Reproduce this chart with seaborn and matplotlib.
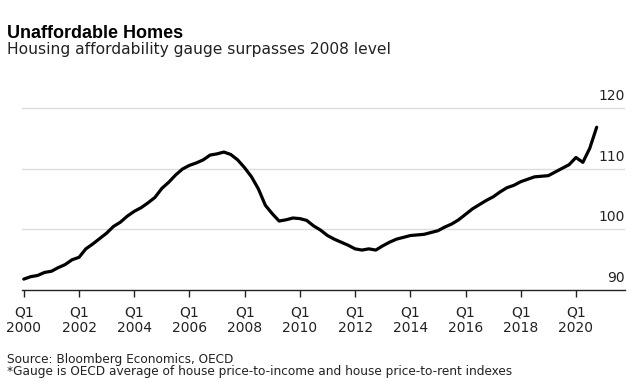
import numpy as np
import pandas as pd
import matplotlib
matplotlib.use("Agg")
import matplotlib.pyplot as plt
import matplotlib.transforms as mtransforms
import seaborn as sns

# quarterly gauge values, Q1 2000 .. Q4 2020
gauge = [91.8, 92.2, 92.4, 92.9, 93.1, 93.7, 94.2, 95.0,
         95.4, 96.8, 97.6, 98.5, 99.4, 100.5, 101.2, 102.2,
         103.0, 103.6, 104.4, 105.3, 106.8, 107.8, 109.0, 110.0,
         110.6, 111.0, 111.5, 112.3, 112.5, 112.8, 112.4, 111.5,
         110.2, 108.7, 106.7, 104.0, 102.6, 101.4, 101.6, 101.9,
         101.8, 101.5, 100.6, 99.9, 99.0, 98.4, 97.9, 97.4,
         96.8, 96.6, 96.8, 96.6, 97.3, 97.9, 98.4, 98.7,
         99.0, 99.1, 99.2, 99.5, 99.8, 100.4, 100.9, 101.6,
         102.5, 103.4, 104.1, 104.8, 105.4, 106.2, 106.9, 107.3,
         107.9, 108.3, 108.7, 108.8, 108.9, 109.5, 110.1, 110.7,
         111.9, 111.1, 113.4, 116.9]
quarters = pd.date_range("2000-01-01", periods=len(gauge), freq="QS")

tick_years = [2000, 2002, 2004, 2006, 2008, 2010, 2012, 2014, 2016, 2018, 2020]
y_ticks = [90, 100, 110, 120]

df = pd.DataFrame({"quarter": quarters, "gauge": gauge})

sns.set_theme(style="white")
plt.rcParams['font.family'] = ['DejaVu Sans']

fig = plt.figure(figsize=(6.44, 3.86), dpi=100)
ax = fig.add_axes([0.0334, 0.2487, 0.937, 0.5016])

sns.lineplot(data=df, x="quarter", y="gauge", color="black", linewidth=2.3, ax=ax)

ax.set_ylim(90, 122)
ax.set_xlim(pd.Timestamp("1999-12-02"), pd.Timestamp("2021-10-10"))

# gridlines
for v in y_ticks[1:]:
    ax.axhline(v, color="#dcdcdc", linewidth=1.0, zorder=0)

for s in ["top", "right", "left"]:
    ax.spines[s].set_visible(False)
ax.spines["bottom"].set_color("#222222")
ax.spines["bottom"].set_linewidth(1.0)

ax.set_xticks(pd.to_datetime([f"{y}-01-01" for y in tick_years]))
ax.set_xticklabels([f"Q1\n{y}" for y in tick_years], linespacing=1.2)
ax.tick_params(axis="x", bottom=True, length=5, width=1, color="#222222",
               pad=6, labelsize=10, labelcolor="#222222")

ax.set_yticks(y_ticks)
ax.set_yticklabels([str(v) for v in y_ticks])
ax.tick_params(axis="y", left=False, labelleft=False, right=False, labelright=True,
               length=0, pad=0, labelsize=10, labelcolor="#222222")
offset = mtransforms.ScaledTranslation(0, 8 / 100, fig.dpi_scale_trans)
for lab in ax.get_yticklabels():
    lab.set_horizontalalignment("right")
    lab.set_verticalalignment("baseline")
    lab.set_transform(lab.get_transform() + offset)

ax.set_xlabel("")
ax.set_ylabel("")

fig.text(0.0109, 0.9023, "Unaffordable Homes", fontsize=13, fontweight="bold",
         family=["Liberation Sans", "DejaVu Sans"], color="black", va="baseline")
fig.text(0.0109, 0.8593, "Housing affordability gauge surpasses 2008 level",
         fontsize=11.2, color="#222222", va="baseline")
fig.text(0.0109, 0.0588,
         "Source: Bloomberg Economics, OECD\n"
         "*Gauge is OECD average of house price-to-income and house price-to-rent indexes",
         fontsize=8.7, color="#222222", va="top", linespacing=0.95,
         transform=fig.transFigure + mtransforms.ScaledTranslation(0, 0.105, fig.dpi_scale_trans))

fig.savefig("out.png", dpi=100)
